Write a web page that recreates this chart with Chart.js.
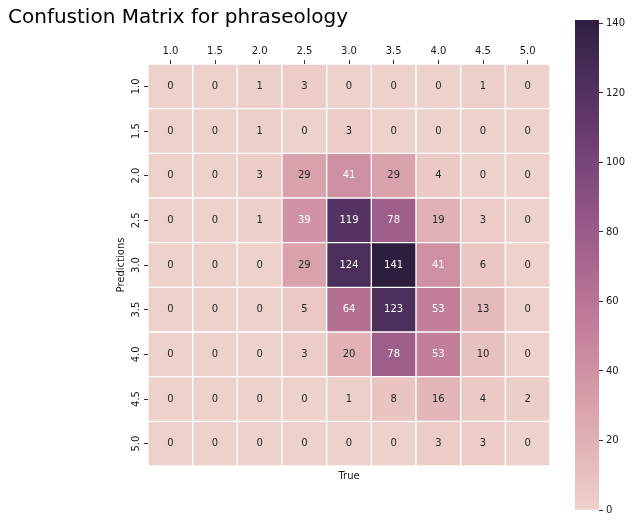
<!DOCTYPE html>
<html>
<head>
<meta charset="utf-8">
<script src="https://cdn.jsdelivr.net/npm/chart.js"></script>
<style>
  body { margin: 0; background: #fff; }
  #wrap { position: relative; width: 632px; height: 523px; }
  #title { position: absolute; left: 8px; top: 4px; font: 20px "DejaVu Sans"; color: #000; white-space: nowrap; }
  #main { position: absolute; left: 0; top: 0; }
  #cbar { position: absolute; left: 560px; top: 0; }
</style>
</head>
<body>
<div id="wrap">
  <canvas id="main" width="632" height="523"></canvas>
  <canvas id="cbar" width="72" height="523"></canvas>
  <div id="title">Confustion Matrix for phraseology</div>
</div>
<script>
// Labels
const trueLabels = ['1.0', '1.5', '2.0', '2.5', '3.0', '3.5', '4.0', '4.5', '5.0'];
const predLabels = ['1.0', '1.5', '2.0', '2.5', '3.0', '3.5', '4.0', '4.5', '5.0'];

// Counts, one row per prediction
const counts = [
  [0, 0, 1, 3, 0, 0, 0, 1, 0],
  [0, 0, 1, 0, 3, 0, 0, 0, 0],
  [0, 0, 3, 29, 41, 29, 4, 0, 0],
  [0, 0, 1, 39, 119, 78, 19, 3, 0],
  [0, 0, 0, 29, 124, 141, 41, 6, 0],
  [0, 0, 0, 5, 64, 123, 53, 13, 0],
  [0, 0, 0, 3, 20, 78, 53, 10, 0],
  [0, 0, 0, 0, 1, 8, 16, 4, 2],
  [0, 0, 0, 0, 0, 0, 3, 3, 0]
];
const cbarTicks = [0, 20, 40, 60, 80, 100, 120, 140];

const vmax = Math.max(...counts.flat());

// seaborn cubehelix_palette(as_cmap=True)
function cubehelix(t) {
  const x = 0.85 - 0.7 * t;
  const a = 0.8 * x * (1 - x) / 2;
  const phi = 2 * Math.PI * (0.4 * x);
  const f = (p0, p1) => Math.min(1, Math.max(0, x + a * (p0 * Math.cos(phi) + p1 * Math.sin(phi))));
  return [f(-0.14861, 1.78277), f(-0.29227, -0.90649), f(1.97294, 0)];
}
function toCss(rgb) {
  return 'rgb(' + rgb.map(c => Math.round(c * 255)).join(',') + ')';
}
function colorFor(v) { return toCss(cubehelix(v / vmax)); }
function textColorFor(v) {
  const lin = cubehelix(v / vmax).map(c => c <= 0.03928 ? c / 12.92 : Math.pow((c + 0.055) / 1.055, 2.4));
  const lum = 0.2126 * lin[0] + 0.7152 * lin[1] + 0.0722 * lin[2];
  return lum > 0.408 ? '#262626' : '#ffffff';
}

Chart.defaults.font.family = 'DejaVu Sans';
Chart.defaults.font.size = 10;
Chart.defaults.color = '#1a1a1a';

const datasets = counts.map((row, r) => ({
  label: predLabels[r],
  data: row.map(() => [r, r + 1]),
  backgroundColor: row.map(colorFor),
  borderColor: '#ffffff',
  borderWidth: 1,
  borderSkipped: false,
  barPercentage: 1,
  categoryPercentage: 1,
  grouped: false
}));

// draw the numbers in every cell
const annotate = {
  id: 'annotate',
  afterDatasetsDraw(chart) {
    const ctx = chart.ctx;
    ctx.save();
    ctx.font = '10px "DejaVu Sans"';
    ctx.textAlign = 'center';
    ctx.textBaseline = 'middle';
    chart.data.datasets.forEach((ds, r) => {
      chart.getDatasetMeta(r).data.forEach((bar, c) => {
        const v = counts[r][c];
        ctx.fillStyle = textColorFor(v);
        ctx.fillText(String(v), bar.x, (bar.y + bar.base) / 2);
      });
    });
    ctx.restore();
  }
};

new Chart(document.getElementById('main'), {
  type: 'bar',
  data: { labels: trueLabels, datasets: datasets },
  plugins: [annotate],
  options: {
    responsive: false,
    animation: false,
    layout: { padding: { left: 111, right: 82, top: 34, bottom: 37 } },
    plugins: { legend: { display: false }, tooltip: { enabled: false } },
    scales: {
      x: {
        position: 'top',
        grid: { drawOnChartArea: false, drawTicks: true, tickLength: 4, offset: false, color: '#333' },
        border: { display: false },
        ticks: { padding: 3, maxRotation: 0 },
        afterFit(s) { s.height = 30; }
      },
      x2: {
        type: 'category',
        labels: trueLabels,
        position: 'bottom',
        grid: { display: false },
        border: { display: false },
        ticks: { display: false },
        title: { display: true, text: 'True', color: '#1a1a1a' },
        afterFit(s) { s.height = 20; }
      },
      y: {
        type: 'linear',
        min: 0,
        max: predLabels.length,
        reverse: true,
        grid: { drawOnChartArea: false, drawTicks: true, tickLength: 4, color: '#333' },
        border: { display: false },
        afterBuildTicks(s) { s.ticks = predLabels.map((l, i) => ({ value: i + 0.5 })); },
        ticks: {
          minRotation: 90, maxRotation: 90, padding: 0, crossAlign: 'center',
          callback: (v, i) => predLabels[i]
        },
        title: { display: true, text: 'Predictions', color: '#1a1a1a' },
        afterFit(s) { s.width = 37; }
      }
    }
  }
});

// colour bar
new Chart(document.getElementById('cbar'), {
  type: 'bar',
  data: {
    labels: [''],
    datasets: [{
      data: [[0, vmax]],
      backgroundColor(ctx) {
        const chart = ctx.chart;
        if (!chart.chartArea) return null;
        const ys = chart.scales.y;
        const g = chart.ctx.createLinearGradient(0, ys.getPixelForValue(0), 0, ys.getPixelForValue(vmax));
        for (let i = 0; i <= 32; i++) g.addColorStop(i / 32, toCss(cubehelix(i / 32)));
        return g;
      },
      borderWidth: 0,
      barPercentage: 1,
      categoryPercentage: 1
    }]
  },
  options: {
    responsive: false,
    animation: false,
    layout: { padding: { left: 15, right: 0, top: 20, bottom: 13 } },
    plugins: { legend: { display: false }, tooltip: { enabled: false } },
    scales: {
      x: { display: false },
      y: {
        position: 'right',
        min: 0,
        max: vmax,
        grid: { drawOnChartArea: false, drawTicks: true, tickLength: 4, color: '#333' },
        border: { display: false },
        afterBuildTicks(s) { s.ticks = cbarTicks.map(v => ({ value: v })); },
        ticks: { padding: 3 },
        afterFit(s) { s.width = 33; }
      }
    }
  }
});
</script>
</body>
</html>
